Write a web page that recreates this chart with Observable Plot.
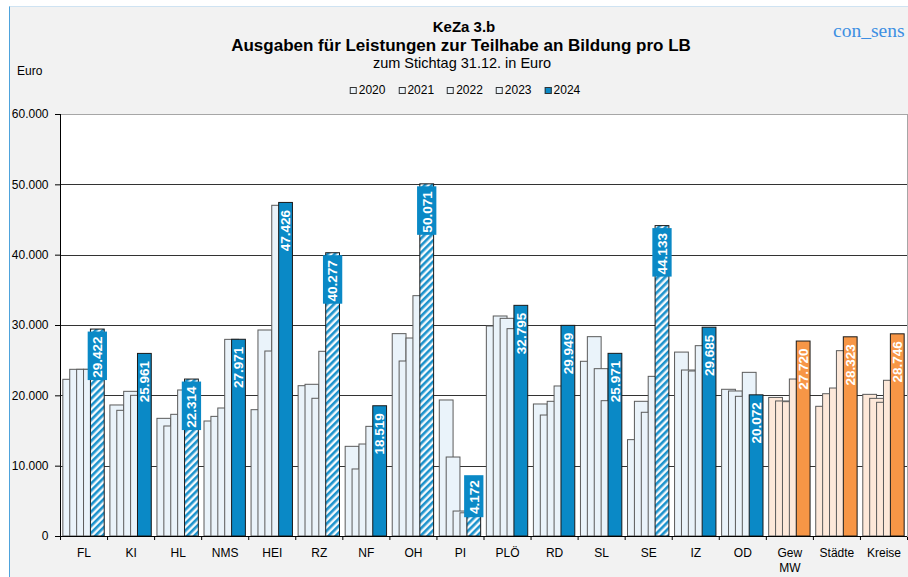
<!DOCTYPE html>
<html><head><meta charset="utf-8">
<script src="https://cdn.jsdelivr.net/npm/d3@7"></script>
<script src="https://cdn.jsdelivr.net/npm/@observablehq/plot@0.6"></script>
<style>
html,body{margin:0;padding:0;overflow:hidden;background:#fff;}
#wrap{position:relative;width:908px;height:577px;font-family:Arial,"Liberation Sans",sans-serif;}
#panel{position:absolute;left:9px;top:6px;right:0;bottom:0;background:#f2f2f2;border-left:1px solid #4ea3dc;border-top:1px solid #cfe3f2;}
.t{position:absolute;white-space:nowrap;line-height:1;color:#000;}
.c{transform:translateX(-50%);}
#legend{position:absolute;left:465px;top:84px;transform:translateX(-50%);display:flex;font-size:12px;line-height:12px;white-space:nowrap;}
#legend .it{display:flex;align-items:center;margin-right:13px;}
#legend .it:last-child{margin-right:0;}
#legend .sw{width:5px;height:5px;border:1px solid #333;margin-right:2px;}
#chart{position:absolute;left:0;top:0;}
</style></head>
<body>
<div id="wrap">
  <div id="panel"></div>
  <div class="t c" style="left:464px;top:19px;font-size:15px;font-weight:bold;">KeZa 3.b</div>
  <div class="t c" style="left:461px;top:36.5px;font-size:17px;font-weight:bold;">Ausgaben für Leistungen zur Teilhabe an Bildung pro LB</div>
  <div class="t c" style="left:462px;top:56px;font-size:14.5px;">zum Stichtag 31.12. in Euro</div>
  <div class="t" style="left:17px;top:65px;font-size:12px;">Euro</div>
  <div class="t" style="left:833px;top:20.5px;font-size:19.5px;font-family:'Liberation Serif','Times New Roman',serif;color:#3d8fe2;">con_sens</div>
  <div id="legend"></div>
  <div id="chart"></div>
</div>
<script>
// ---- data ----
const categories = ["FL","KI","HL","NMS","HEI","RZ","NF","OH","PI","PLÖ","RD","SL","SE","IZ","OD","Gew\nMW","Städte","Kreise"];
const years = ["2020","2021","2022","2023","2024"];
const v2020 = [22280,18630,16730,16350,17960,21370,12750,28770,19340,29860,18770,24840,13700,26150,20860,19700,18440,20140];
const v2021 = [23700,17870,15640,17010,29290,21570,9530,24880,11230,31280,17200,28340,19150,23600,20620,19200,20230,19570];
const v2022 = [23700,20570,17300,18200,26300,19580,13080,28150,3550,30950,19150,23790,17590,23460,19860,19100,21040,19010];
const v2023 = [23700,20000,20760,27960,47020,26260,15590,34170,3300,29480,21330,19240,22700,27060,23270,22320,26350,22140];
const v2024 = [29422,25961,22314,27971,47426,40277,18519,50071,4172,32795,29949,25971,44133,29685,20072,27720,28323,28746];
const hatchedCats = ["FL","HL","RZ","OH","PI","SE"];
const comparisonCats = ["Gew\nMW","Städte","Kreise"];
const yTicks = [0,10000,20000,30000,40000,50000,60000];
const gridValues = [10000,20000,30000,40000,50000];

// ---- styles ----
const blue = "#0a89c6", lightBlue = "#eaf3fa";
const orange = "#f79646", lightOrange = "#fde8d9";

const fmt = d3.formatLocale({decimal: ",", thousands: ".", grouping: [3], currency: ["", " €"]}).format(",d");

// legend
const legend = document.getElementById("legend");
years.forEach((y, j) => {
  const it = document.createElement("div"); it.className = "it";
  const sw = document.createElement("div"); sw.className = "sw";
  sw.style.background = j === 4 ? blue : lightBlue;
  const tx = document.createElement("span"); tx.textContent = y;
  it.appendChild(sw); it.appendChild(tx); legend.appendChild(it);
});

// layout of clustered, overlapping bars inside each category band
const barW = 0.293, step = 0.1466;
const pad = (1 - (4 * step + barW)) / 2;
const series = [v2020, v2021, v2022, v2023, v2024];
const rows = [];
series.forEach((vals, j) => vals.forEach((v, i) => {
  const x1 = i + pad + j * step;
  rows.push({cat: categories[i], i, j, year: years[j], v, x1, x2: x1 + barW, xc: x1 + barW / 2,
    comp: comparisonCats.includes(categories[i]), hatch: hatchedCats.includes(categories[i])});
}));
const old = rows.filter(d => d.j < 4);
const cur = rows.filter(d => d.j === 4);
const minLabel = 9000; // short bars get their label lifted to fit
cur.forEach(d => { d.anchor = Math.max(d.v, minLabel); d.label = fmt(d.v); });
const boxHalf = 0.205;

const svg = Plot.plot({
  width: 908, height: 577,
  marginTop: 114, marginBottom: 41, marginLeft: 60, marginRight: 1,
  style: {background: "transparent", fontFamily: "Arial, 'Liberation Sans', sans-serif", fontSize: "12px", color: "black", overflow: "visible"},
  x: {domain: [0, categories.length], ticks: d3.range(categories.length + 1), tickFormat: () => "", tickSize: 4, label: null},
  y: {domain: [0, 60000], ticks: yTicks, tickFormat: fmt, tickSize: 5, tickPadding: 7, label: null},
  marks: [
    Plot.frame({fill: "white", stroke: "#a6a6a6"}),
    Plot.ruleY(gridValues, {stroke: "#333", strokeWidth: 1, shapeRendering: "crispEdges"}),
    Plot.rect(old.filter(d => !d.comp), {x1: "x1", x2: "x2", y1: 0, y2: "v", fill: lightBlue, stroke: "#5a5a5a", strokeWidth: 1}),
    Plot.rect(old.filter(d => d.comp), {x1: "x1", x2: "x2", y1: 0, y2: "v", fill: lightOrange, stroke: "#5a5a5a", strokeWidth: 1}),
    Plot.rect(cur.filter(d => !d.comp && !d.hatch), {x1: "x1", x2: "x2", y1: 0, y2: "v", fill: blue, stroke: "#1a1a1a", strokeWidth: 1}),
    Plot.rect(cur.filter(d => d.hatch), {x1: "x1", x2: "x2", y1: 0, y2: "v", fill: "url(#hatch)", stroke: "#1a1a1a", strokeWidth: 1}),
    Plot.rect(cur.filter(d => d.comp), {x1: "x1", x2: "x2", y1: 0, y2: "v", fill: orange, stroke: "#1a1a1a", strokeWidth: 1}),
    // label boxes on hatched bars
    Plot.rect(cur.filter(d => d.hatch && d.label.length >= 6), {x1: d => d.xc - boxHalf, x2: d => d.xc + boxHalf, y1: "anchor", y2: "anchor", insetTop: 2.5, insetBottom: -51, fill: blue}),
    Plot.rect(cur.filter(d => d.hatch && d.label.length < 6), {x1: d => d.xc - boxHalf, x2: d => d.xc + boxHalf, y1: "anchor", y2: "anchor", insetTop: 2.5, insetBottom: -44.5, fill: blue}),
    Plot.text(cur, {x: "xc", y: "anchor", text: "label", rotate: -90, textAnchor: "end", dy: 7, fill: "white", fontWeight: "bold", fontSize: 13.5}),
    // axes lines
    Plot.ruleX([0], {stroke: "black", shapeRendering: "crispEdges"}),
    Plot.ruleY([0], {stroke: "black", shapeRendering: "crispEdges"}),
    // category labels
    Plot.text(categories, {x: (d, i) => i + 0.5, y: 0, text: d => d, lineAnchor: "top", dy: 9, lineHeight: 1.3, fill: "black", fontSize: 12})
  ]
});

const defs = d3.select(svg).insert("defs", ":first-child");
const pat = defs.append("pattern").attr("id", "hatch").attr("patternUnits", "userSpaceOnUse")
  .attr("width", 5).attr("height", 5).attr("patternTransform", "rotate(45)");
pat.append("rect").attr("width", 5).attr("height", 5).attr("fill", "#f4f9fc");
pat.append("rect").attr("width", 2.6).attr("height", 5).attr("fill", "#1b92cc");

document.getElementById("chart").appendChild(svg);
</script>
</body></html>
